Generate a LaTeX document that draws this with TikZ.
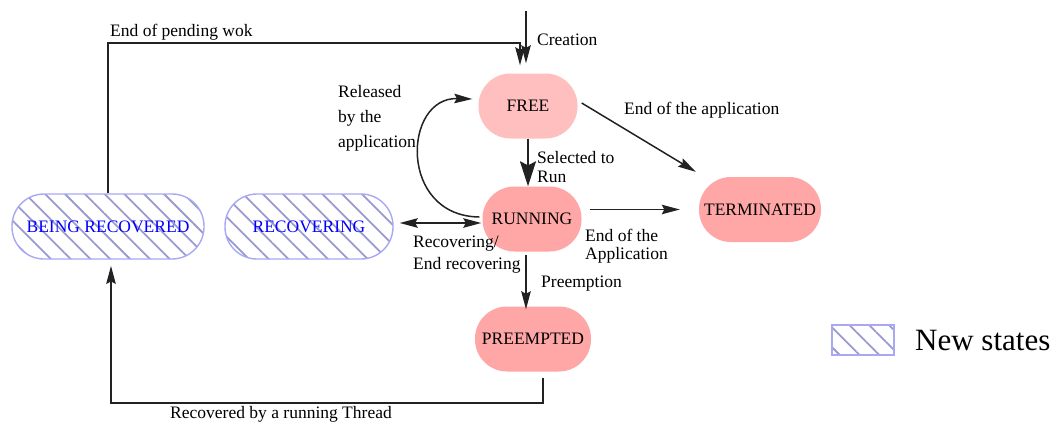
\documentclass[tikz,border=0pt]{standalone}
\usepackage{fontspec}
\setmainfont{Liberation Serif}
\usetikzlibrary{arrows.meta,patterns.meta,calc}
\definecolor{pinklight}{HTML}{FFBFBF}
\definecolor{pinkstate}{HTML}{FFA6A6}
\definecolor{hatchline}{HTML}{9A9AD0}
\definecolor{hatchborder}{HTML}{A8A8F4}
\definecolor{edgecol}{HTML}{222222}

\begin{document}
\begin{tikzpicture}[x=1pt,y=-1pt,
  every node/.style={font=\fontsize{17.5}{21}\selectfont},
  state/.style={rectangle, rounded corners=32pt, minimum height=65pt, inner sep=0pt, fill=pinkstate},
  newstate/.style={state, fill=none, draw=hatchborder, line width=1.4pt, text=blue,
    pattern={Lines[angle=-45,distance=14pt,line width=1.8pt]}, pattern color=hatchline},
  lbl/.style={inner sep=0pt, anchor=west, align=left},
  tip/.style={},
  arr/.style={draw=edgecol, line width=1.5pt, -{Stealth[length=18pt,width=9.5pt,inset=2.5pt]}},
  bigarr/.style={draw=edgecol, line width=1.5pt, -{Stealth[length=25pt,width=16pt,inset=4pt]}},
  darr/.style={draw=edgecol, line width=1.5pt, {Stealth[length=18pt,width=9.5pt,inset=2.5pt]}-{Stealth[length=18pt,width=9.5pt,inset=2.5pt]}},
  ]
\useasboundingbox (0,0) rectangle (1058,426);

% states
\node[state, fill=pinklight, minimum width=99pt] (free) at (528,106) {FREE};
\node[state, minimum width=99pt] (running) at (532,219) {RUNNING};
\node[state, minimum width=122pt] (term) at (760,209.5) {TERMINATED};
\node[state, minimum width=116pt] (preempted) at (533,339) {PREEMPTED};
\node[newstate, minimum width=192pt] (br) at (108,226.5) {BEING RECOVERED};
\node[newstate, minimum width=168pt] (rec) at (309,226.5) {RECOVERING};

% legend
\node[newstate, rounded corners=0pt, minimum width=62pt, minimum height=30pt] (legend) at (863,340) {};
\node[lbl, font=\fontsize{31}{36}\selectfont] (legendtext) at (915,340) {New states};

% transitions
\coordinate (crtop) at (526,11);
\draw[arr, shorten >=10pt] (crtop) -- (crtop |- free.north);
\node[lbl] (lcreation) at (537,40) {Creation};

\coordinate (pw) at (520,43);
\draw[arr, shorten >=8pt] (br.north) |- (pw) -- (pw |- free.north);
\node[lbl] (lpending) at (110,32) {End of pending wok};

\draw[bigarr] (free.south) -- (free.south |- running.north);
\node[lbl, font=\fontsize{17.5}{19}\selectfont] (lselected) at (537,167.5) {Selected to\\Run};

\draw[arr] ($(free.east)+(4,-3)$) -- ($(term.north west)+(-3,-5)$);
\node[lbl] (lendapp) at (624,110) {End of the application};

\draw[arr] ($(running.east |- term.west)+(8,0)$) -- ($(term.west)+(-19,0)$);
\node[lbl, font=\fontsize{17.5}{18}\selectfont] (lendapp2) at (585,246) {End of the\\Application};

\draw[arr] ($(running.west)+(-3,-2)$) .. controls (398,216) and (403,97) .. ($(free.west)+(-6,-7)$);
\node[lbl, font=\fontsize{17.5}{25}\selectfont] (lreleased) at (338,118) {Released\\by the\\application};

\draw[darr] ($(rec.east)+(6,-3.5)$) -- ($(running.west)+(-1,4)$);
\node[lbl, font=\fontsize{17.5}{22}\selectfont] (lrecovering) at (413,255) {Recovering/\\End recovering};

\draw[arr] ($(running.south)+(-6,3)$) -- ($(preempted.north)+(-7,3)$);
\node[lbl] (lpreempt) at (541,284) {Preemption};

\coordinate (rb) at (111,403);
\draw[arr] ($(preempted.south)+(10,6)$) |- (rb) -- ($(br.south)+(3,6)$);
\node[lbl] (lrecovered) at (170,414) {Recovered by a running Thread};
\end{tikzpicture}
\end{document}
